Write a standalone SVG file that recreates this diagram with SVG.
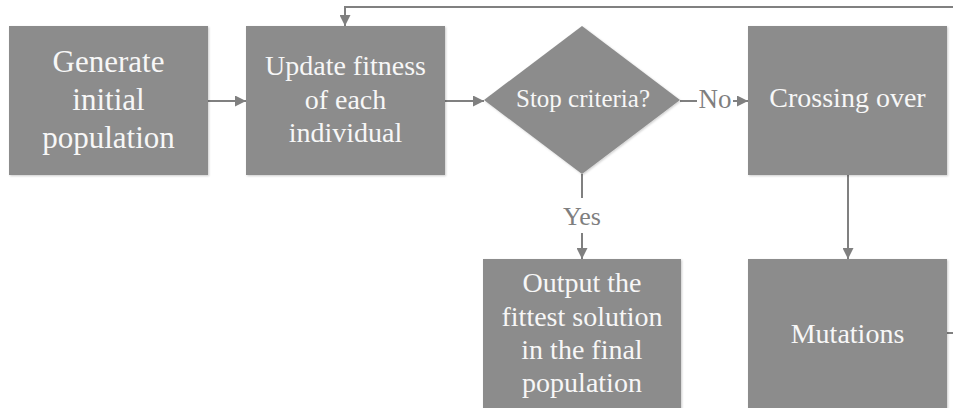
<svg xmlns="http://www.w3.org/2000/svg" width="953" height="408" viewBox="0 0 953 408">
<style>
.box{fill:#8c8c8c;}
.t{font-family:"Liberation Serif","Times New Roman",serif;fill:#f7f7f7;text-anchor:middle;}
.lbl{font-family:"Liberation Serif","Times New Roman",serif;fill:#7f7f7f;text-anchor:middle;}
.ln{stroke:#808080;stroke-width:2;fill:none;}
</style>
<defs>
<marker id="ah" viewBox="0 0 10 10" refX="10" refY="5" markerWidth="5.5" markerHeight="5.5" markerUnits="strokeWidth" orient="auto">
<path d="M0,0 L10,5 L0,10 z" fill="#808080"/>
</marker>
<filter id="sh" x="-5%" y="-5%" width="115%" height="115%">
<feDropShadow dx="1" dy="1" stdDeviation="1" flood-color="#000" flood-opacity="0.2"/>
</filter>
</defs>
<g id="connectors">
<line class="ln" x1="208" y1="101" x2="246" y2="101" marker-end="url(#ah)"/>
<line class="ln" x1="445" y1="101" x2="484" y2="101" marker-end="url(#ah)"/>
<line class="ln" x1="680" y1="101" x2="697" y2="101"/>
<line class="ln" x1="733" y1="101" x2="748" y2="101" marker-end="url(#ah)"/>
<line class="ln" x1="582" y1="174" x2="582" y2="198"/>
<line class="ln" x1="582" y1="233" x2="582" y2="259" marker-end="url(#ah)"/>
<line class="ln" x1="848" y1="175" x2="848" y2="259" marker-end="url(#ah)"/>
<polyline class="ln" points="953,7 345,7 345,26" marker-end="url(#ah)"/>
<line class="ln" x1="947" y1="333" x2="953" y2="333"/>
<text class="lbl" x="715" y="108" font-size="27">No</text>
<text class="lbl" x="582" y="225" font-size="26">Yes</text>
</g>
<g id="n1">
<rect class="box" x="9" y="26" width="199" height="149" filter="url(#sh)"/>
<text class="t" font-size="31" x="108.5" y="72">Generate</text>
<text class="t" font-size="31" x="108.5" y="110">initial</text>
<text class="t" font-size="31" x="108.5" y="148">population</text>
</g>
<g id="n2">
<rect class="box" x="246" y="26" width="199" height="149" filter="url(#sh)"/>
<text class="t" font-size="28" x="345.5" y="75">Update fitness</text>
<text class="t" font-size="28" x="345.5" y="108.5">of each</text>
<text class="t" font-size="28" x="345.5" y="142">individual</text>
</g>
<g id="n3">
<polygon class="box" points="582,26 680,100 582,174 484,100" filter="url(#sh)"/>
<text class="t" font-size="25" x="583" y="107">Stop criteria?</text>
</g>
<g id="n4">
<rect class="box" x="748" y="26" width="199" height="149" filter="url(#sh)"/>
<text class="t" font-size="28" x="847.5" y="107">Crossing over</text>
</g>
<g id="n5">
<rect class="box" x="483" y="259" width="198" height="160" filter="url(#sh)"/>
<text class="t" font-size="28" x="582" y="292">Output the</text>
<text class="t" font-size="28" x="582" y="325.5">fittest solution</text>
<text class="t" font-size="28" x="582" y="359">in the final</text>
<text class="t" font-size="28" x="582" y="392">population</text>
</g>
<g id="n6">
<rect class="box" x="748" y="259" width="199" height="160" filter="url(#sh)"/>
<text class="t" font-size="28" x="847.5" y="343">Mutations</text>
</g>
</svg>
